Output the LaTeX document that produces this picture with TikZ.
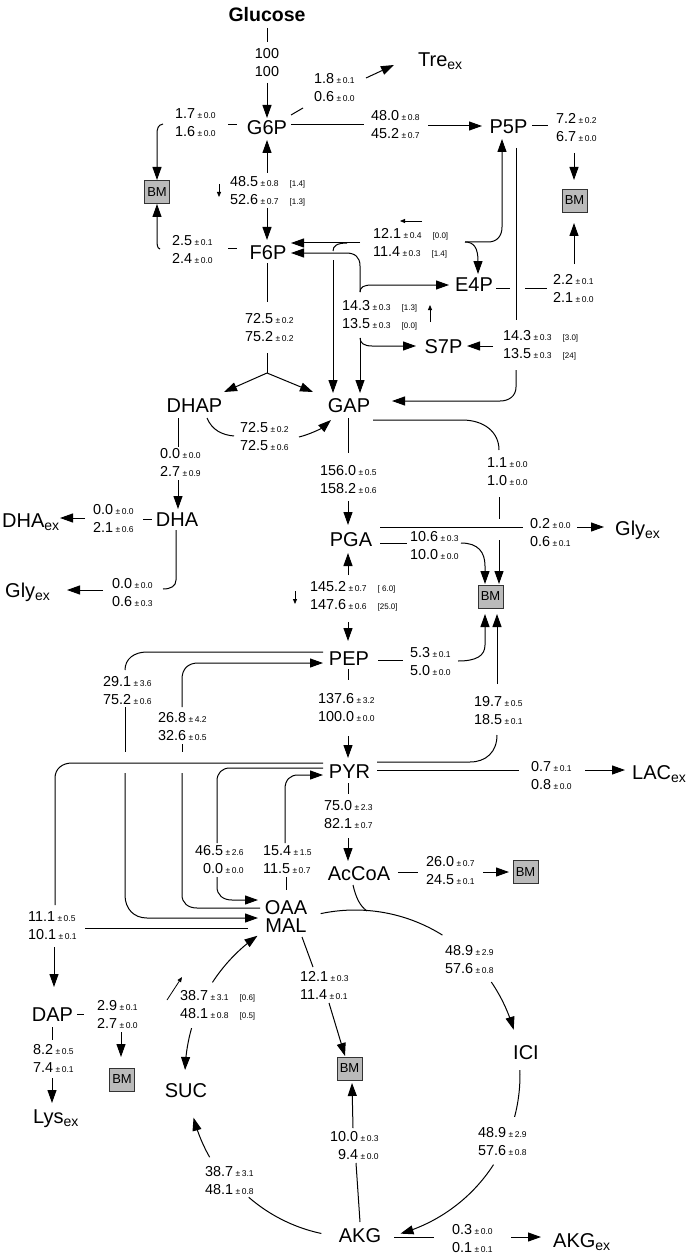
\documentclass[tikz,border=0pt]{standalone}
\usepackage{fontspec}
\setmainfont{Liberation Sans}
\usetikzlibrary{arrows.meta}
\newcommand{\pmx}[1]{\hspace{2.5pt}{\fontsize{8.5}{10}\selectfont ±\,#1}}
\newcommand{\brx}[1]{\hspace{11pt}{\fontsize{8}{10}\selectfont [#1]}}
\newcommand{\subex}{\raisebox{-3pt}{\fontsize{14}{14}\selectfont ex}}
\tikzset{
 met/.style={font=\fontsize{20}{24}\selectfont, inner sep=0pt},
 lab/.style={font=\fontsize{14.4}{18}\selectfont, align=left, anchor=west, inner sep=0pt},
 bm/.style={draw=black!80, fill=black!27, line width=0.9pt, minimum width=25pt, minimum height=23pt, inner sep=0pt, font=\fontsize{13}{15}\selectfont},
 ln/.style={line width=1pt},
 arr/.style={ln, -{Triangle[length=13pt,width=9pt]}},
 tarr/.style={line width=0.8pt, -{Triangle[length=5pt,width=4pt]}},
}
\begin{document}
\begin{tikzpicture}[x=1pt,y=-1pt]
\useasboundingbox (0,0) rectangle (685,1257);
% metabolites
\node[met, font=\fontsize{19.5}{24}\selectfont\bfseries] (glc) at (267,15) {Glucose};
\node[met] (G6P) at (267,127.5) {G6P};
\node[met] (P5P) at (508.5,126.5) {P5P};
\node[met] (F6P) at (268,252.5) {F6P};
\node[met] (E4P) at (474,285) {E4P};
\node[met] (S7P) at (443.5,347) {S7P};
\node[met] (DHAP) at (194.5,405.5) {DHAP};
\node[met] (GAP) at (349,405.5) {GAP};
\node[met] (DHA) at (177,519.5) {DHA};
\node[met] (PGA) at (351,539.5) {PGA};
\node[met] (PEP) at (349,659) {PEP};
\node[met] (PYR) at (349.5,772) {PYR};
\node[met] (AcCoA) at (359,874) {AcCoA};
\node[met] (OAA) at (286,907.5) {OAA};
\node[met] (MAL) at (286,925.5) {MAL};
\node[met] (DAP) at (52.5,1014.5) {DAP};
\node[met] (SUC) at (186,1090.5) {SUC};
\node[met] (ICI) at (526,1052.5) {ICI};
\node[met] (AKG) at (360,1235.5) {AKG};
\node[met, anchor=base west] (Tre) at (418,67) {Tre\subex};
\node[met, anchor=base west] (DHAex) at (2,527) {DHA\subex};
\node[met, anchor=base west] (GlyL) at (5,597) {Gly\subex};
\node[met, anchor=base west] (GlyR) at (615,535) {Gly\subex};
\node[met, anchor=base west] (LAC) at (632,779) {LAC\subex};
\node[met, anchor=base west] (AKGex) at (553,1247) {AKG\subex};
\node[met, anchor=base west] (Lys) at (33,1123) {Lys\subex};
% biomass
\node[bm] (bm1) at (157,192) {BM};
\node[bm] (bm2) at (574.5,200.5) {BM};
\node[bm] (bm3) at (490.5,596.5) {BM};
\node[bm] (bm4) at (525.5,872) {BM};
\node[bm] (bm5) at (349.5,1068.5) {BM};
\node[bm] (bm6) at (122,1079.5) {BM};
% flux labels
\node[lab, align=center, anchor=center] (l1) at (267,63) {100\\100};
\node[lab] (l2) at (314,88) {1.8\pmx{0.1}\\0.6\pmx{0.0}};
\node[lab] (l3) at (371,125) {48.0\pmx{0.8}\\45.2\pmx{0.7}};
\node[lab] (l4) at (556,127.5) {7.2\pmx{0.2}\\6.7\pmx{0.0}};
\node[lab] (l5) at (175,122.5) {1.7\pmx{0.0}\\1.6\pmx{0.0}};
\node[lab] (l6) at (230,191) {48.5\pmx{0.8}\brx{1.4}\\52.6\pmx{0.7}\brx{1.3}};
\node[lab] (l7) at (172,250) {2.5\pmx{0.1}\\2.4\pmx{0.0}};
\node[lab] (l8) at (373,243) {12.1\pmx{0.4}\brx{0.0}\\11.4\pmx{0.3}\brx{1.4}};
\node[lab] (l9) at (553,289) {2.2\pmx{0.1}\\2.1\pmx{0.0}};
\node[lab] (l10) at (342,315.5) {14.3\pmx{0.3}\brx{1.3}\\13.5\pmx{0.3}\brx{0.0}};
\node[lab] (l11) at (503,345) {14.3\pmx{0.3}\brx{3.0}\\13.5\pmx{0.3}\brx{24}};
\node[lab] (l12) at (245,328) {72.5\pmx{0.2}\\75.2\pmx{0.2}};
\node[lab] (l13) at (240,436.5) {72.5\pmx{0.2}\\72.5\pmx{0.6}};
\node[lab] (l14) at (160,463) {0.0\pmx{0.0}\\2.7\pmx{0.9}};
\node[lab] (l15) at (93,519) {0.0\pmx{0.0}\\2.1\pmx{0.6}};
\node[lab] (l16) at (112,593) {0.0\pmx{0.0}\\0.6\pmx{0.3}};
\node[lab] (l17) at (320,480) {156.0\pmx{0.5}\\158.2\pmx{0.6}};
\node[lab] (l18) at (487,472) {1.1\pmx{0.0}\\1.0\pmx{0.0}};
\node[lab] (l19) at (530,532.5) {0.2\pmx{0.0}\\0.6\pmx{0.1}};
\node[lab] (l20) at (410,546) {10.6\pmx{0.3}\\10.0\pmx{0.0}};
\node[lab] (l21) at (310,596.5) {145.2\pmx{0.7}\brx{\ 6.0}\\147.6\pmx{0.6}\brx{25.0}};
\node[lab] (l22) at (410,662) {5.3\pmx{0.1}\\5.0\pmx{0.0}};
\node[lab] (l23) at (318,707.5) {137.6\pmx{3.2}\\100.0\pmx{0.0}};
\node[lab] (l24) at (474,711) {19.7\pmx{0.5}\\18.5\pmx{0.1}};
\node[lab] (l25) at (531,776) {0.7\pmx{0.1}\\0.8\pmx{0.0}};
\node[lab] (l26) at (324,814.5) {75.0\pmx{2.3}\\82.1\pmx{0.7}};
\node[lab] (l27) at (103,691) {29.1\pmx{3.6}\\75.2\pmx{0.6}};
\node[lab] (l28) at (158,727) {26.8\pmx{4.2}\\32.6\pmx{0.5}};
\node[lab] (l29) at (195,860) {46.5\pmx{2.6}\\\phantom{4}0.0\pmx{0.0}};
\node[lab] (l30) at (263,860) {15.4\pmx{1.5}\\11.5\pmx{0.7}};
\node[lab] (l31) at (28,925.5) {11.1\pmx{0.5}\\10.1\pmx{0.1}};
\node[lab] (l32) at (97,1014.5) {2.9\pmx{0.1}\\2.7\pmx{0.0}};
\node[lab] (l33) at (33,1059) {8.2\pmx{0.5}\\7.4\pmx{0.1}};
\node[lab] (l34) at (180,1005) {38.7\pmx{3.1}\brx{0.6}\\48.1\pmx{0.8}\brx{0.5}};
\node[lab] (l35) at (300,985.5) {12.1\pmx{0.3}\\11.4\pmx{0.1}};
\node[lab] (l36) at (426,871) {26.0\pmx{0.7}\\24.5\pmx{0.1}};
\node[lab] (l37) at (445,959.5) {48.9\pmx{2.9}\\57.6\pmx{0.8}};
\node[lab] (l38) at (478,1141.5) {48.9\pmx{2.9}\\57.6\pmx{0.8}};
\node[lab] (l39) at (330,1146) {10.0\pmx{0.3}\\\phantom{1}9.4\pmx{0.0}};
\node[lab] (l40) at (205,1181) {38.7\pmx{3.1}\\48.1\pmx{0.8}};
\node[lab] (l41) at (452,1238.5) {0.3\pmx{0.0}\\0.1\pmx{0.1}};
% Glucose -> G6P
\draw[ln] (267,28) -- (267,42);
\draw[arr] (267,83) -- (267,118);
% G6P -> Tre
\draw[ln] (291,115) -- (303,108);
\draw[arr] (366,78) -- (394,65);
% G6P -> P5P
\draw[ln] (291,125) -- (364,125);
\draw[arr] (428,126) -- (482,126);
% P5P -> BM
\draw[ln] (532,126) -- (548,126);
\draw[arr] (574,153) -- (574,180);
% G6P -> BM
\draw[ln] (228,125) -- (237,125);
\draw[arr] (163,124) .. controls (158,125) and (157,128) .. (157,135) -- (157,180);
% F6P -> BM
\draw[ln] (228,249) -- (237,249);
\draw[arr] (160,249) .. controls (157,248) and (157,245) .. (157,238) -- (157,204);
% G6P <-> F6P
\draw[arr] (267,173) -- (267,140);
\draw[arr] (267,208) -- (267,240);
\draw[tarr] (219,184) -- (219,197);
% F6P -> DHAP + GAP
\draw[ln] (267,263) -- (267,302);
\draw[ln] (267,353) -- (267,373);
\draw[arr] (267,373) -- (224,392);
\draw[arr] (267,373) -- (313,392);
% TK (12.1)
\draw[arr] (360,243) -- (291,243);
\draw[ln] (347,243) .. controls (337,243) and (333,246) .. (333,251);
\draw[arr] (333,260) -- (333,393);
\draw[arr] (465,242) -- (488,242) .. controls (497,242) and (502,236) .. (502,227) -- (502,139);
\draw[arr] (465,242) .. controls (474,242) and (478,248) .. (478,274);
\draw[tarr] (422,221) -- (400,221);
% TA (14.3 [1.3])
\draw[arr] (360,292) -- (360,266) .. controls (360,257) and (355,253) .. (346,253) -- (291,253);
\draw[arr] (360,292) .. controls (360,287) and (364,285) .. (372,285) -- (449,285);
\draw[arr] (360,338) -- (360,393);
\draw[arr] (360,338) .. controls (360,343) and (364,346) .. (372,346) -- (416,346);
\draw[tarr] (430,322) -- (430,305);
% TK (14.3 [3.0])
\draw[ln] (516,148) -- (516,320);
\draw[arr] (493,346) -- (467,346);
\draw[arr] (516,370) -- (516,387) .. controls (516,396) and (509,401) .. (500,401) -- (392,401);
% E4P -> BM
\draw[ln] (496,288) -- (510,288);
\draw[ln] (525,288) -- (547,288);
\draw[arr] (574,264) -- (574,223);
% DHAP -> GAP
\draw[ln] (207,418) .. controls (212,430) and (222,435) .. (234,436);
\draw[arr] (299,437) .. controls (311,434) and (322,428) .. (331,420);
% DHAP -> DHA
\draw[ln] (178,418) -- (178,447);
\draw[arr] (178,480) -- (178,509);
% DHA -> DHAex
\draw[ln] (143,519) -- (152,519);
\draw[arr] (85,518) -- (60,518);
% DHA -> Glyex
\draw[ln] (176,530) -- (176,580) .. controls (176,586) and (171,589) .. (163,589);
\draw[arr] (103,590) -- (67,590);
% GAP -> PGA
\draw[ln] (348,418) -- (348,453);
\draw[arr] (348,501) -- (348,525);
% GAP -> BM
\draw[ln] (373,420) -- (462,420) .. controls (484,420) and (499,432) .. (499,450);
\draw[ln] (499,497) -- (499,519);
\draw[arr] (499,540) -- (499,584);
% PGA -> Glyex
\draw[ln] (380,527) -- (523,527);
\draw[arr] (577,527) -- (604,527);
% PGA -> BM
\draw[ln] (380,543) -- (407,543);
\draw[arr] (461,543) .. controls (478,543) and (485,552) .. (485,566) -- (485,584);
% PGA <-> PEP
\draw[arr] (348,575) -- (348,553);
\draw[arr] (348,622) -- (348,641);
\draw[tarr] (295,591) -- (295,604);
% PEP -> BM
\draw[ln] (378,660) -- (403,660);
\draw[arr] (458,661) .. controls (476,661) and (485,656) .. (485,645) -- (485,614);
% PYR -> BM
\draw[ln] (377,762) -- (470,762) .. controls (486,762) and (497,752) .. (497,735);
\draw[arr] (497,684) -- (497,614);
% PEP -> PYR
\draw[ln] (348,669) -- (348,680);
\draw[arr] (348,736) -- (348,758);
% PYR -> LAC
\draw[ln] (377,770) -- (519,770);
\draw[arr] (585,770) -- (625,770);
% PYR -> AcCoA
\draw[ln] (348,783) -- (348,794);
\draw[arr] (348,838) -- (348,861);
% AcCoA -> BM
\draw[ln] (398,872) -- (418,872);
\draw[arr] (483,872) -- (509,872);
% TCA cycle
\draw[ln] plot[domain=-102:-58, samples=20, smooth] ({355+165*cos(\x)},{1075+165*sin(\x)});
\draw[arr] plot[domain=-34.3:-15.9, samples=12, smooth] ({355+165*cos(\x)},{1075+165*sin(\x)});
\draw[ln] plot[domain=-1.7:14.7, samples=12, smooth] ({355+165*cos(\x)},{1075+165*sin(\x)});
\draw[arr] plot[domain=32.9:74, samples=20, smooth] ({355+165*cos(\x)},{1075+165*sin(\x)});
\draw[ln] plot[domain=102:131, samples=15, smooth] ({355+162*cos(\x)},{1075+162*sin(\x)});
\draw[arr] plot[domain=150.5:165.2, samples=10, smooth] ({355+167*cos(\x)},{1075+167*sin(\x)});
\draw[arr] plot[domain=181.7:196, samples=10, smooth] ({355+170*cos(377.7-\x)},{1075+170*sin(377.7-\x)});
\draw[arr] plot[domain=213:235, samples=12, smooth] ({355+170*cos(\x)},{1075+170*sin(\x)});
\draw[ln] (353,885) .. controls (356,898) and (360,906) .. (367,911);
\draw[tarr] (167,1000) -- (182,977);
% MAL -> BM
\draw[ln] (302,937) -- (313,967);
\draw[arr] (329,1003) -- (345,1056);
% AKG -> BM
\draw[ln] (360,1222) -- (356,1163);
\draw[arr] (353,1128) -- (352,1083);
% AKG -> AKGex
\draw[ln] (394,1237) -- (434,1237);
\draw[arr] (511,1237) -- (541,1237);
% OAA -> PYR
\draw[ln] (286,877) -- (286,890);
\draw[arr] (285,843) -- (285,789) .. controls (285,780) and (290,775) .. (298,775) -- (323,775);
% PYR -> OAA
\draw[ln] (323,768) -- (230,768) .. controls (222,768) and (217,773) .. (217,781) -- (217,843);
\draw[arr] (217,877) -- (217,887) .. controls (217,895) and (223,900) .. (232,900) -- (258,900);
% PEP -> MAL
\draw[ln] (323,652) -- (147,652) .. controls (134,652) and (125,659) .. (125,670);
\draw[ln] (125,707) -- (125,752);
\draw[arr] (125,773) -- (125,895) .. controls (125,909) and (134,918) .. (147,918) -- (258,918);
% OAA -> PEP
\draw[arr] (182,707) -- (182,679) .. controls (182,669) and (188,663) .. (198,663) -- (323,663);
\draw[ln] (182,744) -- (182,752);
\draw[ln] (182,773) -- (182,895) .. controls (182,903) and (188,908) .. (197,908) -- (260,908);
% PYR + OAA -> DAP
\draw[ln] (323,763) -- (72,763) .. controls (62,763) and (55,769) .. (55,778) -- (55,905);
\draw[ln] (85,928) -- (248,928);
\draw[arr] (54,947) -- (54,987);
% DAP -> BM, Lys
\draw[ln] (77,1014) -- (84,1014);
\draw[arr] (121,1032) -- (121,1057);
\draw[ln] (52,1027) -- (52,1040);
\draw[arr] (52,1078) -- (52,1103);
\end{tikzpicture}
\end{document}
